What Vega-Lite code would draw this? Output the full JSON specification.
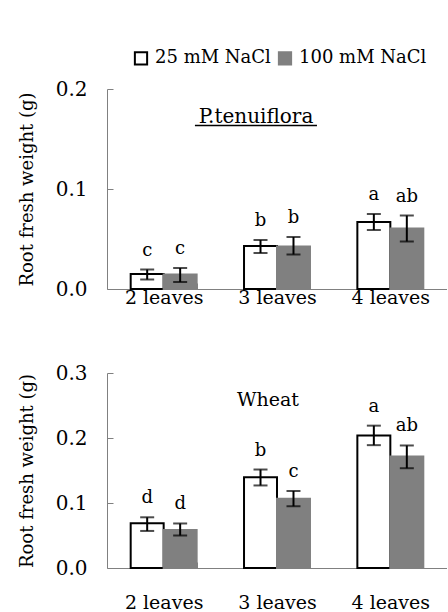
{
  "$schema": "https://vega.github.io/schema/vega-lite/v6.json",
  "background": "white",
  "padding": {"left": 18, "top": 49, "right": 0, "bottom": 0},
  "config": {
    "view": {"stroke": null},
    "font": "DejaVu Serif",
    "axis": {
      "labelFont": "DejaVu Serif", "labelColor": "black", "titleFont": "DejaVu Serif",
      "titleColor": "black", "titleFontWeight": "normal", "domainColor": "#808080",
      "tickColor": "#808080", "grid": false, "tickSize": -6
    },
    "legend": {
      "labelFont": "DejaVu Serif", "labelFontSize": 18, "labelColor": "black"
    }
  },
  "datasets": {
    "pt": [
      {"stage": "2 leaves", "treatment": "25 mM NaCl", "mean": 0.015, "lo": 0.0095, "hi": 0.0195, "letter": "c"},
      {"stage": "2 leaves", "treatment": "100 mM NaCl", "mean": 0.0145, "lo": 0.007, "hi": 0.021, "letter": "c"},
      {"stage": "3 leaves", "treatment": "25 mM NaCl", "mean": 0.043, "lo": 0.036, "hi": 0.049, "letter": "b"},
      {"stage": "3 leaves", "treatment": "100 mM NaCl", "mean": 0.0425, "lo": 0.0345, "hi": 0.052, "letter": "b"},
      {"stage": "4 leaves", "treatment": "25 mM NaCl", "mean": 0.067, "lo": 0.059, "hi": 0.075, "letter": "a"},
      {"stage": "4 leaves", "treatment": "100 mM NaCl", "mean": 0.0605, "lo": 0.0475, "hi": 0.0735, "letter": "ab"}
    ],
    "wheat": [
      {"stage": "2 leaves", "treatment": "25 mM NaCl", "mean": 0.0687, "lo": 0.057, "hi": 0.078, "letter": "d"},
      {"stage": "2 leaves", "treatment": "100 mM NaCl", "mean": 0.0585, "lo": 0.05, "hi": 0.0685, "letter": "d"},
      {"stage": "3 leaves", "treatment": "25 mM NaCl", "mean": 0.1395, "lo": 0.127, "hi": 0.1515, "letter": "b"},
      {"stage": "3 leaves", "treatment": "100 mM NaCl", "mean": 0.1065, "lo": 0.095, "hi": 0.1185, "letter": "c"},
      {"stage": "4 leaves", "treatment": "25 mM NaCl", "mean": 0.204, "lo": 0.189, "hi": 0.219, "letter": "a"},
      {"stage": "4 leaves", "treatment": "100 mM NaCl", "mean": 0.1715, "lo": 0.1535, "hi": 0.1885, "letter": "ab"}
    ]
  },
  "vconcat": [
    {
      "width": 340, "height": 200,
      "data": {"name": "pt"},
      "title": {"text": "P.tenuiflora", "font": "DejaVu Serif", "fontSize": 20, "fontWeight": "normal", "color": "black", "offset": -48, "dx": -21, "anchor": "middle"},
      "encoding": {
        "x": {"field": "stage", "type": "nominal", "sort": null,
          "scale": {"paddingInner": 0.418, "paddingOuter": 0.209},
          "axis": {"title": null, "labelAngle": 0, "labelFontSize": 19, "labelPadding": 5, "tickBand": "extent"}}
      },
      "layer": [
        {
          "mark": {"type": "bar", "strokeWidth": 2},
          "encoding": {
            "xOffset": {"field": "treatment", "type": "nominal", "sort": ["25 mM NaCl", "100 mM NaCl"], "scale": {"paddingInner": 0, "paddingOuter": 0}},
            "y": {"field": "mean", "type": "quantitative", "scale": {"domain": [0, 0.2], "nice": false},
              "axis": {"title": "Root fresh weight (g)", "titleFontSize": 18, "labelFontSize": 20, "values": [0, 0.1, 0.2], "format": ".1f", "labelPadding": 26, "titlePadding": 19}},
            "fill": {"field": "treatment", "type": "nominal", "sort": ["25 mM NaCl", "100 mM NaCl"],
              "scale": {"domain": ["25 mM NaCl", "100 mM NaCl"], "range": ["white", "#808080"]},
              "legend": {"title": null, "orient": "none", "legendX": 25, "legendY": -40, "direction": "horizontal", "symbolType": "square", "symbolSize": 150, "symbolStrokeWidth": 2, "labelOffset": 5, "columnPadding": 3}},
            "stroke": {"field": "treatment", "type": "nominal", "sort": ["25 mM NaCl", "100 mM NaCl"],
              "scale": {"domain": ["25 mM NaCl", "100 mM NaCl"], "range": ["black", "#808080"]},
              "legend": {"title": null, "orient": "none", "legendX": 25, "legendY": -40, "direction": "horizontal", "symbolType": "square", "symbolSize": 150, "symbolStrokeWidth": 2, "labelOffset": 5, "columnPadding": 3}}
          }
        },
        {
          "mark": {"type": "rule", "color": "black", "strokeWidth": 2},
          "encoding": {
            "xOffset": {"field": "treatment", "type": "nominal", "sort": ["25 mM NaCl", "100 mM NaCl"]},
            "y": {"field": "lo", "type": "quantitative"}, "y2": {"field": "hi"}}
        },
        {
          "mark": {"type": "tick", "color": "black", "thickness": 2, "size": 14},
          "encoding": {
            "xOffset": {"field": "treatment", "type": "nominal", "sort": ["25 mM NaCl", "100 mM NaCl"]},
            "y": {"field": "lo", "type": "quantitative"}}
        },
        {
          "mark": {"type": "tick", "color": "black", "thickness": 2, "size": 14},
          "encoding": {
            "xOffset": {"field": "treatment", "type": "nominal", "sort": ["25 mM NaCl", "100 mM NaCl"]},
            "y": {"field": "hi", "type": "quantitative"}}
        },
        {
          "mark": {"type": "text", "font": "DejaVu Serif", "fontSize": 18, "color": "black", "dy": -14, "baseline": "alphabetic"},
          "encoding": {
            "xOffset": {"field": "treatment", "type": "nominal", "sort": ["25 mM NaCl", "100 mM NaCl"]},
            "y": {"field": "hi", "type": "quantitative"}, "text": {"field": "letter"}}
        },
        {
          "data": {"values": [{}]},
          "mark": {"type": "rule", "color": "black", "strokeWidth": 1.5},
          "encoding": {
            "x": {"datum": "2 leaves", "bandPosition": 0.974},
            "x2": {"datum": "3 leaves", "bandPosition": 1.106},
            "y": {"datum": 0.1635}
          }
        }
      ]
    },
    {
      "width": 340, "height": 195,
      "data": {"name": "wheat"},
      "title": {"text": "Wheat", "font": "DejaVu Serif", "fontSize": 19, "fontWeight": "normal", "color": "black", "offset": -47, "dx": -9, "anchor": "middle"},
      "encoding": {
        "x": {"field": "stage", "type": "nominal", "sort": null,
          "scale": {"paddingInner": 0.418, "paddingOuter": 0.209},
          "axis": {"title": null, "labelAngle": 0, "labelFontSize": 19, "labelPadding": 31, "tickBand": "extent"}},
        "xOffset": {"field": "treatment", "type": "nominal", "sort": ["25 mM NaCl", "100 mM NaCl"], "scale": {"paddingInner": 0, "paddingOuter": 0}}
      },
      "layer": [
        {
          "mark": {"type": "bar", "strokeWidth": 2},
          "encoding": {
            "y": {"field": "mean", "type": "quantitative", "scale": {"domain": [0, 0.3], "nice": false},
              "axis": {"title": "Root fresh weight (g)", "titleFontSize": 18, "labelFontSize": 20, "values": [0, 0.1, 0.2, 0.3], "format": ".1f", "labelPadding": 26, "titlePadding": 19}},
            "fill": {"field": "treatment", "type": "nominal", "sort": ["25 mM NaCl", "100 mM NaCl"],
              "scale": {"domain": ["25 mM NaCl", "100 mM NaCl"], "range": ["white", "#808080"]}},
            "stroke": {"field": "treatment", "type": "nominal", "sort": ["25 mM NaCl", "100 mM NaCl"],
              "scale": {"domain": ["25 mM NaCl", "100 mM NaCl"], "range": ["black", "#808080"]}}
          }
        },
        {
          "mark": {"type": "rule", "color": "black", "strokeWidth": 2},
          "encoding": {"y": {"field": "lo", "type": "quantitative"}, "y2": {"field": "hi"}}
        },
        {
          "mark": {"type": "tick", "color": "black", "thickness": 2, "size": 14},
          "encoding": {"y": {"field": "lo", "type": "quantitative"}}
        },
        {
          "mark": {"type": "tick", "color": "black", "thickness": 2, "size": 14},
          "encoding": {"y": {"field": "hi", "type": "quantitative"}}
        },
        {
          "mark": {"type": "text", "font": "DejaVu Serif", "fontSize": 18, "color": "black", "dy": -14, "baseline": "alphabetic"},
          "encoding": {"y": {"field": "hi", "type": "quantitative"}, "text": {"field": "letter"}}
        }
      ]
    }
  ],
  "resolve": {"scale": {"y": "independent"}},
  "spacing": 56
}
